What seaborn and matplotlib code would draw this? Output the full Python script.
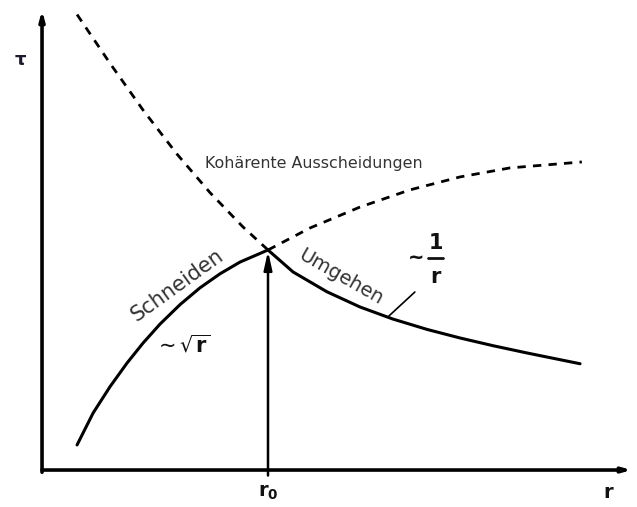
import matplotlib
matplotlib.use("Agg")
import matplotlib.pyplot as plt
import seaborn as sns
import pandas as pd

# Radius r (in units of r0) and critical shear stress tau (in units of tau(r0))
r_cut = [0.155, 0.226, 0.301, 0.376, 0.447, 0.522, 0.611, 0.699, 0.788, 0.876, 1.0]
tau_cut = [0.114, 0.259, 0.379, 0.486, 0.577, 0.663, 0.752, 0.828, 0.892, 0.945, 1.0]

r_bypass = [1.0, 1.111, 1.261, 1.407, 1.553, 1.704, 1.850, 1.996, 2.146, 2.381]
tau_bypass = [1.0, 0.900, 0.810, 0.741, 0.686, 0.639, 0.600, 0.565, 0.532, 0.483]

# Continuation of both mechanisms beyond their regime (dashed)
r_bypass_ext = [0.155, 0.301, 0.447, 0.597, 0.743, 0.889, 1.0]
tau_bypass_ext = [2.070, 1.848, 1.636, 1.436, 1.261, 1.105, 1.0]

r_cut_ext = [1.0, 1.186, 1.407, 1.628, 1.850, 2.071, 2.389]
tau_cut_ext = [1.0, 1.100, 1.195, 1.273, 1.332, 1.373, 1.400]

r0 = 1.0
tau0 = 1.0

x_label = "r"
y_label = "τ"
r0_label = r"$\mathbf{r_0}$"
coherent_label = "Kohärente Ausscheidungen"
cut_label = "Schneiden"
bypass_label = "Umgehen"

sns.set_theme(style="white")
plt.rcParams["font.family"] = ["DejaVu Sans"]
plt.rcParams["mathtext.fontset"] = "dejavusans"

fig = plt.figure(figsize=(6.37, 5.07), dpi=100)
ax = fig.add_axes([0, 0, 1, 1])
ax.set_xlim(-0.186, 2.633)
ax.set_ylim(-0.168, 2.136)
ax.axis("off")

solid = pd.DataFrame({"r": r_cut + r_bypass[1:], "tau": tau_cut + tau_bypass[1:]})
sns.lineplot(data=solid, x="r", y="tau", ax=ax, color="black", lw=2.2,
             sort=False, estimator=None)

dash_style = (0, (3.0, 2.6))
sns.lineplot(x=r_bypass_ext, y=tau_bypass_ext, ax=ax, color="black", lw=2.0,
             linestyle=dash_style, sort=False, estimator=None)
sns.lineplot(x=r_cut_ext, y=tau_cut_ext, ax=ax, color="black", lw=2.0,
             linestyle=dash_style, sort=False, estimator=None)

# Coordinate axes with small arrow heads
ax.annotate("", xy=(0, 2.09), xytext=(0, -0.01),
            arrowprops=dict(arrowstyle="-|>,head_length=0.45,head_width=0.12",
                            lw=2.6, color="black", shrinkA=0, shrinkB=0))
ax.annotate("", xy=(2.61, 0), xytext=(0, 0),
            arrowprops=dict(arrowstyle="-|>,head_length=0.4,head_width=0.11",
                            lw=2.6, color="black", shrinkA=0, shrinkB=0))

# Critical radius r0
ax.annotate("", xy=(r0, tau0 - 0.005), xytext=(r0, -0.025),
            arrowprops=dict(arrowstyle="-|>,head_length=0.9,head_width=0.2",
                            lw=1.8, color="black", shrinkA=0, shrinkB=0))

ax.text(-0.097, 1.864, y_label, fontsize=13, fontweight="bold",
        ha="center", va="center", color="#1a1a2a")
ax.text(2.504, -0.10, x_label, fontsize=14, fontweight="bold",
        ha="center", va="center", color="#111111")
ax.text(r0, -0.10, r0_label, fontsize=14, ha="center", va="center",
        color="#111111")

ax.text(1.204, 1.395, coherent_label, fontsize=11.4, ha="center",
        va="center", color="#333333")
ax.text(0.597, 0.841, cut_label, fontsize=15, ha="center", va="center",
        rotation=35.8, rotation_mode="anchor", color="#333333")
ax.text(1.323, 0.877, bypass_label, fontsize=14, ha="center", va="center",
        rotation=-29.7, rotation_mode="anchor", color="#333333")

ax.text(0.62, 0.568, r"$\sim\sqrt{\mathbf{r}}$", fontsize=15,
        ha="center", va="center", color="#111111")

# ~ 1/r label with leader line to the curve
ax.text(1.655, 0.968, "~", fontsize=14, fontweight="bold",
        ha="center", va="center", color="#111111")
ax.text(1.745, 1.030, "1", fontsize=15, fontweight="bold",
        ha="center", va="center", color="#111111")
ax.plot([1.706, 1.776], [0.964, 0.964], color="#111111", lw=2.0)
ax.text(1.740, 0.878, "r", fontsize=15, fontweight="bold",
        ha="center", va="center", color="#111111")
ax.plot([1.650, 1.535], [0.809, 0.700], color="black", lw=1.2)

fig.savefig("out.png", dpi=100)
